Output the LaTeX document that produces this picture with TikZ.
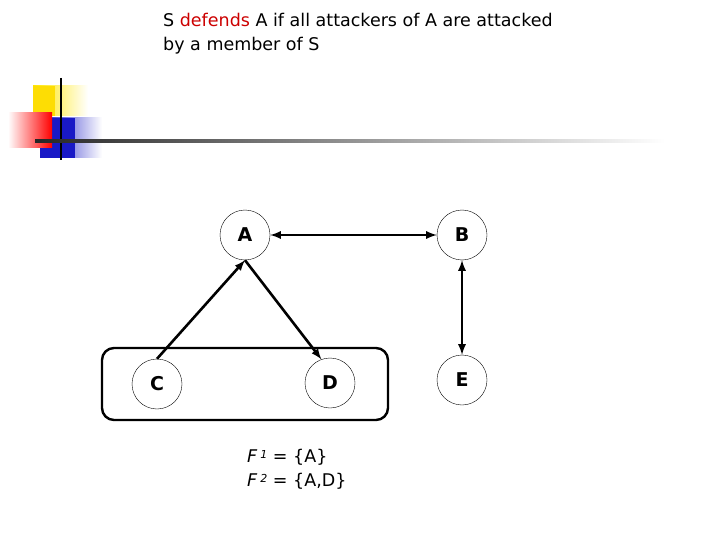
\documentclass[tikz,border=0pt]{standalone}
\usepackage{fontspec}
\setmainfont{DejaVu Sans}
\begin{document}
\begin{tikzpicture}[x=1pt,y=-1pt,
  nd/.style={circle,draw,thin,minimum size=50pt,inner sep=0pt,font=\fontsize{19}{20}\selectfont\bfseries},
  ar/.style={line width=2.6pt,-latex}]
\useasboundingbox (0,0) rectangle (720,540);
% decoration
\shade[left color=yellow!80!orange,right color=white] (33,86) rectangle (88,116);
\fill[yellow!80!orange] (33,86) rectangle (55,116);
\shade[left color=blue!75!black!90,right color=white] (40,118) rectangle (102,158);
\fill[blue!75!black!90] (40,118) rectangle (75,158);
\shade[left color=white,right color=red] (8,113) rectangle (52,148);
\draw[line width=1.5pt] (61,78) -- (61,160);
\shade[left color=black!85,right color=white] (35,140) rectangle (665,143);
% title
\node[anchor=north west,align=left,inner sep=0pt,font=\fontsize{17.5}{24}\selectfont] (t) at (163,13)
 {S \textcolor{red!80!black}{defends} A if all attackers of A are attacked\\by a member of S};
% graph
\draw[rounded corners=12pt,line width=2.4pt] (102,348) rectangle (388,420);
\node[nd] (A) at (245,235) {A};
\node[nd] (B) at (462,235) {B};
\node[nd] (C) at (157,384) {C};
\node[nd] (D) at (330,383) {D};
\node[nd] (E) at (462,380) {E};
\draw[ar] (C.north) -- (A.south);
\draw[ar] (A.south) -- (D.110);
\draw[ar,latex-latex] (A) -- (B);
\draw[ar,latex-latex] (B) -- (E);
\node[anchor=north west,align=left,inner sep=0pt,font=\fontsize{17.5}{24}\selectfont] (f) at (247,449)
 {\textit{F}\,\raisebox{4pt}{\fontsize{11}{11}\selectfont\textit{1}} = \{A\}\\\textit{F}\,\raisebox{4pt}{\fontsize{11}{11}\selectfont\textit{2}} = \{A,D\}};
\end{tikzpicture}
\end{document}
